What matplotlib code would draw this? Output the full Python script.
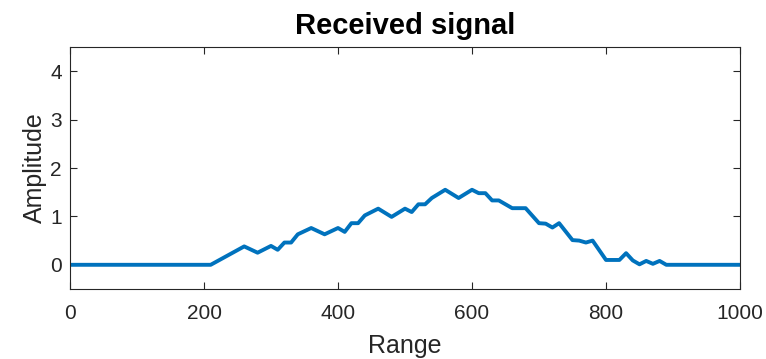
import matplotlib
matplotlib.use("Agg")
import matplotlib.pyplot as plt

# signal vertices (range, amplitude)
rng = [0, 210, 260, 280, 300, 310, 320, 330, 340, 360, 380, 400, 410, 420, 430,
       440, 460, 480, 500, 510, 520, 530, 540, 560, 580, 600, 610, 620, 630, 640,
       660, 680, 700, 710, 720, 730, 750, 760, 770, 780, 800, 820, 830, 840, 850,
       860, 870, 880, 890, 1000]
amp = [0, 0, 0.38, 0.25, 0.39, 0.31, 0.46, 0.46, 0.63, 0.76, 0.63, 0.76, 0.68, 0.86, 0.86,
       1.02, 1.16, 0.99, 1.16, 1.09, 1.25, 1.25, 1.38, 1.55, 1.38, 1.55, 1.48, 1.48, 1.33, 1.33,
       1.17, 1.17, 0.86, 0.85, 0.77, 0.86, 0.51, 0.50, 0.46, 0.50, 0.10, 0.10, 0.24, 0.09, 0.01,
       0.08, 0.02, 0.08, 0, 0]
xticks = [0, 200, 400, 600, 800, 1000]
yticks = [0, 1, 2, 3, 4]

plt.rcParams['font.family'] = ['Liberation Sans', 'DejaVu Sans']
axcol = '#262626'

fig = plt.figure(figsize=(7.66, 3.59), dpi=100)
ax = fig.add_axes([70/766, 70/359, 670/766, 242/359])
ax.plot(rng, amp, color='#0072BD', lw=2.8, solid_joinstyle='round')
ax.set_xlim(0, 1000)
ax.set_ylim(-0.5, 4.5)
ax.set_xticks(xticks)
ax.set_yticks(yticks)
ax.tick_params(direction='in', length=5, width=0.8, top=True, right=True,
               labelsize=15, colors=axcol)
ax.tick_params(axis='x', pad=11)
ax.tick_params(axis='y', pad=6)
for s in ax.spines.values():
    s.set_color(axcol)
    s.set_linewidth(0.8)
ax.set_xlabel('Range', fontsize=18, color=axcol, labelpad=8)
ax.set_ylabel('Amplitude', fontsize=18, color=axcol, labelpad=2)
ax.set_title('Received signal', fontsize=21, fontweight='bold', color='black', pad=9)

fig.savefig('out.png', dpi=100)
